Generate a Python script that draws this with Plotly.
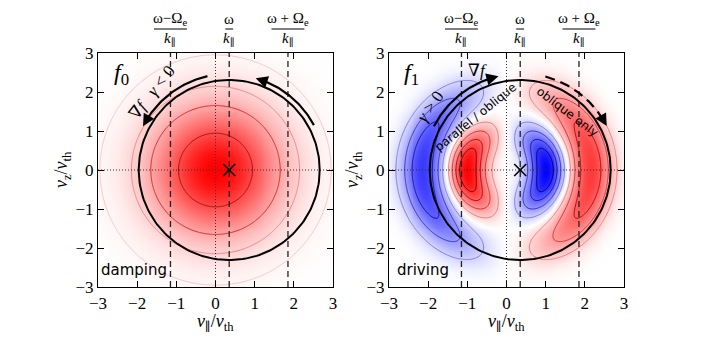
import numpy as np
import plotly.graph_objects as go

# velocity grid (units of v_th)
V_PAR = np.linspace(-3, 3, 241)
V_Z = np.linspace(-3, 3, 241)
TICKS = [-3, -2, -1, 0, 1, 2, 3]

# resonances
OMEGA_K = 0.35          # omega / k_par
OMEGA_E_K = 1.5         # Omega_e / k_par
RESONANCES = [OMEGA_K - OMEGA_E_K, OMEGA_K, OMEGA_K + OMEGA_E_K]
RES_NUMERATORS = ["ω−Ω<sub>e</sub>", "ω", "ω + Ω<sub>e</sub>"]
CIRCLE_RADIUS = 2.31

# f0 : maxwellian
F0_WIDTH2 = 2.6
F0_LEVELS = [0.035, 0.17, 0.35, 0.71]
F0_LINE_COLORS = ["#f7c6c6", "#f08585", "#e02626", "#a01414"]

# f1 : perturbation, two rings with opposite sign
F1_RING_RADII = [1.0, 2.14]
F1_RING_WIDTHS = [0.47, 0.55]
F1_RING_AMPS = [-0.9, 0.7]
F1_ANGULAR_POWER = 1.2
F1_LEVELS = [-0.72, -0.55, -0.35, -0.15, 0.15, 0.35, 0.55, 0.72]
F1_LINE_COLORS = ["#00006a", "#15159a", "#3434c8", "#7c7ce8",
                  "#ee7c7c", "#d83030", "#a81010", "#780000"]

BWR = [[0, "rgb(0,0,255)"], [0.5, "rgb(255,255,255)"], [1, "rgb(255,0,0)"]]
SERIF = "Liberation Serif, DejaVu Serif, serif"
SANS = "DejaVu Sans"
PAR = "<span style='font-family:DejaVu Serif'>∥</span>"

PP, ZZ = np.meshgrid(V_PAR, V_Z)
rr = np.hypot(PP, ZZ)
cphi = PP / np.maximum(rr, 1e-9)
f0 = np.exp(-rr**2 / F0_WIDTH2)
radial = sum(a * np.exp(-((rr - r0) / w) ** 2)
             for a, r0, w in zip(F1_RING_AMPS, F1_RING_RADII, F1_RING_WIDTHS))
f1 = np.sign(cphi) * np.abs(cphi) ** F1_ANGULAR_POWER * radial

fig = go.Figure()

# page body has an 8px margin, so work in window pixels and shift
OFF = 8
W, H = 708 - OFF, 359 - OFF
px = lambda x: (x - OFF) / W
py = lambda y: 1 - (y - OFF) / H

panels = [
    dict(xa="x", ya="y", z=f0, zmax=1.0, levels=F0_LEVELS, colors=F0_LINE_COLORS, x0=98),
    dict(xa="x2", ya="y2", z=f1, zmax=0.9, levels=F1_LEVELS, colors=F1_LINE_COLORS, x0=389),
]
TOP, BOT, SIZE = 53, 287, 235


def arc(t0, t1, rad, n=60):
    th = np.radians(np.linspace(t0, t1, n))
    return OMEGA_K + rad * np.cos(th), rad * np.sin(th)


annotations = []
shapes = []


def txt(**k):
    annotations.append(dict(showarrow=False, xanchor="center", yanchor="middle", **k))


for p in panels:
    xa, ya = p["xa"], p["ya"]
    fig.add_trace(go.Heatmap(x=V_PAR, y=V_Z, z=p["z"], colorscale=BWR, zmin=-p["zmax"], zmax=p["zmax"],
                             zsmooth="best", showscale=False, hoverinfo="skip", xaxis=xa, yaxis=ya))
    for lev, col in zip(p["levels"], p["colors"]):
        fig.add_trace(go.Contour(x=V_PAR, y=V_Z, z=p["z"], showscale=False, hoverinfo="skip",
                                 contours=dict(start=lev, end=lev, size=1, coloring="none"),
                                 line=dict(color=col, width=1), xaxis=xa, yaxis=ya))
    # dotted axes through origin
    fig.add_trace(go.Scatter(x=[0, 0], y=[-3, 3], mode="lines", line=dict(color="#333", width=1, dash="1px,2px"),
                             xaxis=xa, yaxis=ya, hoverinfo="skip"))
    fig.add_trace(go.Scatter(x=[-3, 3], y=[0, 0], mode="lines", line=dict(color="#333", width=1, dash="1px,2px"),
                             xaxis=xa, yaxis=ya, hoverinfo="skip"))
    # resonance lines
    for v in RESONANCES:
        fig.add_trace(go.Scatter(x=[v, v], y=[-3, 3], mode="lines",
                                 line=dict(color="#222", width=1.3, dash="6px,4px"),
                                 xaxis=xa, yaxis=ya, hoverinfo="skip"))
    # resonance circle
    cx, cy = arc(0, 360, CIRCLE_RADIUS, 200)
    fig.add_trace(go.Scatter(x=cx, y=cy, mode="lines", line=dict(color="black", width=2),
                             xaxis=xa, yaxis=ya, hoverinfo="skip"))
    fig.add_trace(go.Scatter(x=[OMEGA_K], y=[0], mode="markers",
                             marker=dict(symbol="x-thin", size=12, line=dict(width=1.6, color="black")),
                             xaxis=xa, yaxis=ya, hoverinfo="skip"))
    # fraction labels above
    for v, num in zip(RESONANCES, RES_NUMERATORS):
        half = 0.1 if num == "ω" else 0.42
        txt(x=v, y=py(19), xref=xa, yref="paper", text=num, font=dict(family=SERIF, size=15, color="black"))
        txt(x=v, y=py(39), xref=xa, yref="paper", text=f"<i>k</i><sub>{PAR}</sub>",
            font=dict(family=SERIF, size=15, color="black"))
        shapes.append(dict(type="line", xref=xa, yref="paper", x0=v - half, x1=v + half,
                           y0=py(29), y1=py(29), line=dict(color="black", width=1)))
    # axis titles
    txt(x=px(p["x0"] + SIZE / 2), y=py(322), xref="paper", yref="paper",
        text=f"<i>v</i><sub>{PAR}</sub>/<i>v</i><sub>th</sub>", font=dict(family=SERIF, size=18, color="black"))
    txt(x=px(p["x0"] - 36), y=py(170), xref="paper", yref="paper", textangle=-90,
        text="<i>v</i><sub>z</sub>/<i>v</i><sub>th</sub>", font=dict(family=SERIF, size=18, color="black"))


def add_arrow(xa, ya, t0, t1, rad, dash="solid"):
    ax_, ay_ = arc(t0, t1 - np.sign(t1 - t0) * 4, rad)
    fig.add_trace(go.Scatter(x=ax_, y=ay_, mode="lines", line=dict(color="black", width=2.2, dash=dash),
                             xaxis=xa, yaxis=ya, hoverinfo="skip"))
    hx, hy = arc(t1, t1, rad, 1)
    bx, by = arc(t1 - np.sign(t1 - t0) * 5, t1 - np.sign(t1 - t0) * 5, rad, 1)
    annotations.append(dict(x=hx[0], y=hy[0], ax=bx[0], ay=by[0], xref=xa, yref=ya, axref=xa, ayref=ya,
                            text="", showarrow=True, arrowhead=2, arrowsize=1.1, arrowwidth=2.2,
                            arrowcolor="black"))


add_arrow("x", "y", 103, 153, 2.47)
add_arrow("x", "y", 28, 74, 2.45)
add_arrow("x2", "y2", 153, 103, 2.47)
add_arrow("x2", "y2", 75, 27, 2.48, dash="10px,6px")

txt(x=-2.39, y=2.47, xref="x", yref="y", text="<i>f</i><sub>0</sub>", font=dict(family=SERIF, size=24, color="black"))
txt(x=-2.42, y=2.47, xref="x2", yref="y2", text="<i>f</i><sub>1</sub>", font=dict(family=SERIF, size=24, color="black"))
txt(x=-1.62, y=1.98, xref="x", yref="y", text="∇<i>f</i>   <i>γ</i> < 0", textangle=-52,
    font=dict(family=SERIF, size=17, color="black"))
txt(x=-1.94, y=1.62, xref="x2", yref="y2", text="<i>γ</i> > 0", textangle=-55,
    font=dict(family=SERIF, size=17, color="black"))
txt(x=-0.73, y=2.54, xref="x2", yref="y2", text="∇<i>f</i>", font=dict(family=SERIF, size=17, color="black"))
txt(x=-0.79, y=1.37, xref="x2", yref="y2", text="parallel / oblique", textangle=-39,
    font=dict(family=SANS, size=12, color="black"))
txt(x=1.56, y=1.5, xref="x2", yref="y2", text="oblique only", textangle=37,
    font=dict(family=SANS, size=12, color="black"))
txt(x=-2.07, y=-2.56, xref="x", yref="y", text="damping", font=dict(family=SANS, size=15, color="black"))
txt(x=-2.13, y=-2.56, xref="x2", yref="y2", text="driving", font=dict(family=SANS, size=15, color="black"))

axis = dict(range=[-3, 3], tickvals=TICKS, ticks="inside", ticklen=6, tickcolor="black", automargin=False,
            showline=True, linecolor="black", linewidth=1.2, mirror="ticks",
            showgrid=False, zeroline=False, tickfont=dict(family=SERIF, size=17, color="black"))
ydom = [py(BOT), py(TOP)]
fig.update_layout(
    width=W, height=H, margin=dict(l=0, r=0, t=0, b=0, autoexpand=False),
    paper_bgcolor="white", plot_bgcolor="white", showlegend=False,
    xaxis=dict(axis, domain=[px(98), px(333)], anchor="y"),
    yaxis=dict(axis, domain=ydom, anchor="x"),
    xaxis2=dict(axis, domain=[px(389), px(624)], anchor="y2"),
    yaxis2=dict(axis, domain=ydom, anchor="x2"),
    annotations=annotations, shapes=shapes,
)
fig.write_html("out.html")
